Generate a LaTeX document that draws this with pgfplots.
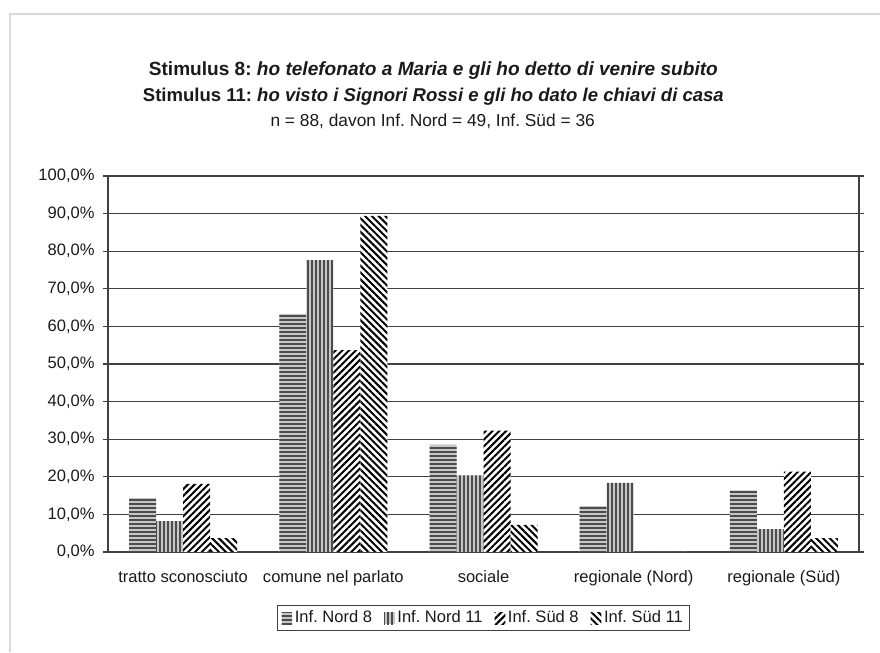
\documentclass[border=0pt]{standalone}
\usepackage{pgfplots}
\pgfplotsset{compat=1.18}
\usepackage{fontspec}
\setmainfont{Liberation Sans}
\usetikzlibrary{patterns.meta}

\definecolor{axisgray}{HTML}{404040}
\definecolor{txt}{HTML}{1A1A1A}

\pgfplotsset{
  hbar/.style={fill=gray!45, draw=none,
    postaction={pattern={Lines[angle=0,distance=3pt,line width=1.3pt]}, pattern color=black!70}},
  vbar/.style={fill=gray!45, draw=none,
    postaction={pattern={Lines[angle=90,distance=3pt,line width=1.3pt]}, pattern color=black!70}},
  nebar/.style={fill=white, draw=none,
    postaction={pattern={Lines[angle=45,distance=3.6pt,line width=1.5pt]}, pattern color=black}},
  nwbar/.style={fill=white, draw=none,
    postaction={pattern={Lines[angle=-45,distance=3.6pt,line width=1.5pt]}, pattern color=black}},
}

\begin{document}
\frenchspacing
\fontsize{12.4}{15}\selectfont
\begin{tikzpicture}
  \path[use as bounding box] (0pt,0pt) rectangle (660pt,489pt);
  \draw[gray!30, line width=0.8pt] (7.5pt,0pt) -- (7.5pt,478.5pt) -- (660pt,478.5pt);

  % title, three lines
  \node[anchor=base, inner sep=0pt, text=txt, font=\fontsize{14.3}{17}\selectfont\bfseries]
    at (325pt,432pt) {Stimulus 8: \textit{ho telefonato a Maria e gli ho detto di venire subito}};
  \node[anchor=base, inner sep=0pt, text=txt, font=\fontsize{13.9}{17}\selectfont\bfseries]
    at (325pt,412.5pt) {Stimulus 11: \textit{ho visto i Signori Rossi e gli ho dato le chiavi di casa}};
  \node[anchor=base, inner sep=0pt, text=txt, font=\fontsize{13}{16}\selectfont]
    at (324.5pt,394pt) {n = 88, davon Inf. Nord = 49, Inf. Süd = 36};

  \begin{axis}[
      at={(81pt,75pt)}, anchor=south west,
      scale only axis, width=563.25pt, height=282pt,
      ybar=0pt, bar width=20.25pt,
      xmin=-0.5, xmax=4.5,
      ymin=0, ymax=100,
      xtick={0,1,2,3,4},
      xticklabels={tratto sconosciuto, comune nel parlato, sociale, regionale (Nord), regionale (Süd)},
      x tick style={draw=none},
      extra x ticks={-0.5,0.5,1.5,2.5,3.5,4.5},
      extra x tick labels={},
      extra x tick style={tick style={draw=axisgray, line width=0.9pt}, grid=none},
      ytick={0,10,...,100},
      yticklabels={{0,0\%},{10,0\%},{20,0\%},{30,0\%},{40,0\%},{50,0\%},{60,0\%},{70,0\%},{80,0\%},{90,0\%},{100,0\%}},
      tick align=outside, major tick length=3.75pt,
      y tick style={draw=axisgray, line width=0.9pt},
      ymajorgrids,
      major grid style={draw=axisgray, line width=0.9pt},
      axis line style={draw=axisgray, line width=0.9pt},
      x tick label style={text=txt, yshift=-6pt},
      y tick label style={text=txt, xshift=-2pt},
      legend style={
        at={(0.5,-0.141)}, anchor=north,
        legend columns=-1, draw=axisgray, line width=0.8pt,
        inner xsep=3pt, inner ysep=2pt,
        /tikz/every even column/.append style={column sep=7pt},
        font=\fontsize{12.4}{15}\selectfont, text=txt,
      },
      legend image code/.code={\path[#1] (0pt,-4.5pt) rectangle (8pt,4.5pt);},
    ]
    \addplot[hbar] coordinates {(0,14.3) (1,63.3) (2,28.5) (3,12.2) (4,16.4)};
    \addplot[vbar] coordinates {(0,8.2) (1,77.6) (2,20.4) (3,18.4) (4,6.1)};
    \addplot[nebar] coordinates {(0,18.1) (1,53.7) (2,32.3) (3,0) (4,21.4)};
    \addplot[nwbar] coordinates {(0,3.7) (1,89.4) (2,7.2) (3,0) (4,3.7)};
    \legend{Inf. Nord 8, Inf. Nord 11, Inf. Süd 8, Inf. Süd 11}
  \end{axis}
\end{tikzpicture}
\end{document}
